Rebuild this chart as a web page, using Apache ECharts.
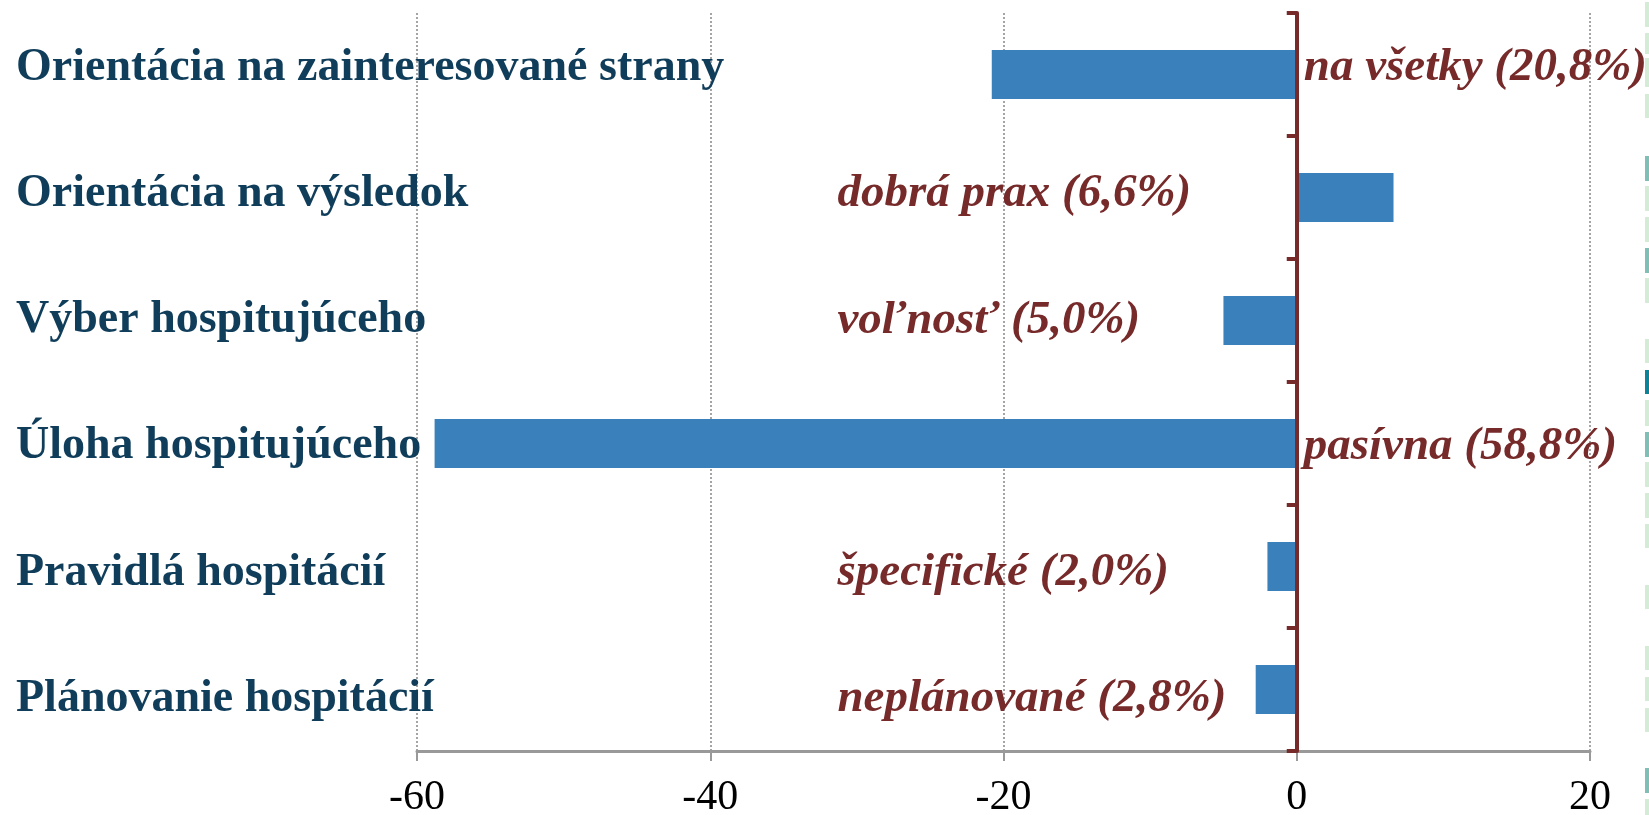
<!DOCTYPE html>
<html>
<head>
<meta charset="utf-8">
<script src="https://cdn.jsdelivr.net/npm/echarts@6/dist/echarts.min.js"></script>
<style>
  html, body { margin: 0; padding: 0; background: #fff; }
  #chart { width: 1649px; height: 815px; }
</style>
</head>
<body>
<div id="chart"></div>
<script>
// kategórie zhora nadol
var categories = [
  'Orientácia na zainteresované strany',
  'Orientácia na výsledok',
  'Výber hospitujúceho',
  'Úloha hospitujúceho',
  'Pravidlá hospitácií',
  'Plánovanie hospitácií'
];
var shares = [-20.8, 6.6, -5.0, -58.8, -2.0, -2.8];
var notes = [
  'na všetky (20,8%)',
  'dobrá prax (6,6%)',
  'voľnosť (5,0%)',
  'pasívna (58,8%)',
  'špecifické (2,0%)',
  'neplánované (2,8%)'
];
var xMin = -60, xMax = 20, xStep = 20;

var red = '#762a2a';
var navy = '#0f3d5a';

var myChart = echarts.init(document.getElementById('chart'));

// dlhé stĺpce majú popis vpravo od osi, krátke vľavo
var noteData = shares.map(function (v, i) {
  return [Math.abs(v) > 10 ? 0 : -31.8, i];
});

// pruhy na pravom okraji (orezaný kus snímky)
var stripes = [
  [2, 27, '#d4ebd6'], [33, 54, '#d4ebd6'], [58, 87, '#d4ebd6'], [94, 118, '#d4ebd6'],
  [156, 181, '#7fbfb5'], [186, 211, '#d4ebd6'], [217, 242, '#d4ebd6'], [248, 273, '#7fbfb5'],
  [278, 303, '#d4ebd6'], [339, 363, '#d4ebd6'], [370, 394, '#0e8296'], [400, 426, '#d4ebd6'],
  [432, 457, '#7fbfb5'], [462, 487, '#d4ebd6'], [493, 518, '#d4ebd6'], [524, 548, '#d4ebd6'],
  [585, 609, '#d4ebd6'], [646, 670, '#d4ebd6'], [677, 701, '#d4ebd6'], [708, 732, '#d4ebd6'],
  [768, 793, '#7fbfb5'], [799, 815, '#d4ebd6']
];

myChart.setOption({
  animation: false,
  graphic: stripes.map(function (s) {
    return {
      type: 'rect',
      shape: { x: 1645, y: s[0], width: 4, height: s[1] - s[0] },
      style: { fill: s[2] }
    };
  }),
  grid: [
    { left: 417, right: 59, top: 13, bottom: 64, outerBoundsMode: 'none' },
    { left: 417, right: 59, top: 5, bottom: 53, outerBoundsMode: 'none' }
  ],
  xAxis: [
    {
      type: 'value',
      gridIndex: 0,
      min: xMin,
      max: xMax,
      interval: xStep,
      axisLine: { show: true, onZero: false, lineStyle: { color: '#999', width: 3 } },
      axisTick: { show: true, length: 10, lineStyle: { color: '#999', width: 2 } },
      axisLabel: {
        color: '#000',
        fontFamily: 'Liberation Serif',
        fontSize: 42,
        margin: 26
      },
      splitLine: { show: true, lineStyle: { color: '#888', type: [2, 2], width: 1.5 } }
    },
    {
      type: 'value',
      gridIndex: 1,
      min: xMin,
      max: xMax,
      show: false
    }
  ],
  yAxis: [
    {
      type: 'category',
      gridIndex: 0,
      inverse: true,
      data: categories,
      axisLine: { show: true, onZero: true, lineStyle: { color: red, width: 4 } },
      axisTick: { show: true, length: 10, lineStyle: { color: red, width: 4 } },
      axisLabel: { show: false },
      z: 5
    },
    {
      type: 'category',
      gridIndex: 1,
      position: 'left',
      inverse: true,
      data: categories,
      axisLine: { show: false },
      axisTick: { show: false },
      axisLabel: {
        align: 'left',
        margin: 401,
        color: navy,
        fontFamily: 'Liberation Serif',
        fontWeight: 'bold',
        fontSize: 46
      }
    }
  ],
  series: [
    {
      type: 'bar',
      xAxisIndex: 0,
      yAxisIndex: 0,
      data: shares,
      barWidth: 49,
      itemStyle: { color: '#3a80ba' },
      z: 2
    },
    {
      type: 'custom',
      xAxisIndex: 1,
      yAxisIndex: 1,
      data: noteData,
      z: 10,
      renderItem: function (params, api) {
        var p = api.coord([api.value(0), api.value(1)]);
        return {
          type: 'text',
          x: p[0] + 7,
          y: p[1],
          style: {
            text: notes[params.dataIndex],
            fill: red,
            fontFamily: 'Liberation Serif',
            fontWeight: 'bold',
            fontStyle: 'italic',
            fontSize: 47,
            align: 'left',
            verticalAlign: 'middle'
          }
        };
      }
    }
  ]
});
</script>
</body>
</html>
